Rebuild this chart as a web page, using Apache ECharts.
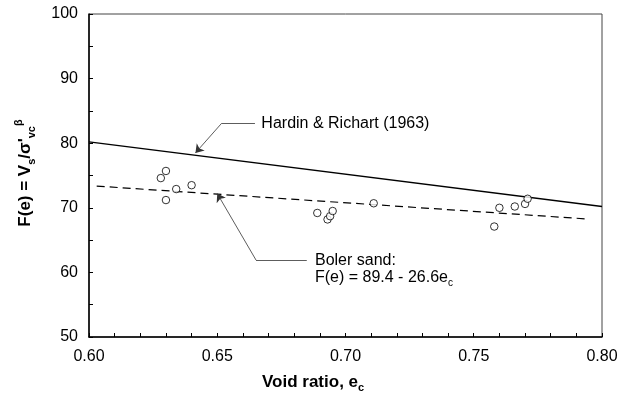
<!DOCTYPE html>
<html>
<head>
<meta charset="utf-8">
<script src="https://cdn.jsdelivr.net/npm/echarts@6/dist/echarts.min.js"></script>
<style>
  html, body { margin: 0; padding: 0; background: #fff; }
  #chart { width: 629px; height: 394px; }
</style>
</head>
<body>
<div id="chart"></div>
<script>
// Measured data: void ratio e_c and F(e)
const voidRatio = [0.628, 0.630, 0.630, 0.634, 0.640, 0.689, 0.693, 0.694, 0.695, 0.711, 0.758, 0.760, 0.766, 0.770, 0.771];
const fValues   = [74.6, 75.7, 71.2, 72.9, 73.5, 69.2, 68.2, 68.7, 69.5, 70.7, 67.1, 70.0, 70.2, 70.6, 71.4];

// Hardin & Richart (1963) reference line
const hardinE = [0.60, 0.80];
const hardinF = [80.2, 70.2];

// Boler sand fit: F(e) = 89.4 - 26.6 e_c
const bolerCoef = [89.4, 26.6];
const bolerRange = [0.603, 0.795];

// Axis ticks
const xTicks = [0.60, 0.65, 0.70, 0.75, 0.80];
const yTicks = [50, 60, 70, 80, 90, 100];

const FONT = 'Liberation Sans, Arial, sans-serif';

const chart = echarts.init(document.getElementById('chart'), null, { renderer: 'canvas' });

const bolerLine = bolerRange.map(e => [e, bolerCoef[0] - bolerCoef[1] * e]);
const hardinLine = hardinE.map((e, i) => [e, hardinF[i]]);
const points = voidRatio.map((e, i) => [e, fValues[i]]);

const near = (v, arr) => arr.some(t => Math.abs(t - v) < 1e-6);

// Leader lines for the two annotations: plain segments and arrowed segments
const leaderStyle = { color: '#333', width: 0.8, opacity: 1 };

chart.setOption({
  animation: false,
  grid: { left: 89, right: 27, top: 14, bottom: 57, show: true, borderColor: '#444', borderWidth: 1 },
  xAxis: {
    type: 'value', min: 0.60, max: 0.80, interval: 0.01,
    axisLine: { show: true, onZero: false, lineStyle: { color: '#000', width: 1.5 } },
    axisTick: { show: true, inside: true, length: 4, lineStyle: { color: '#000', width: 1 } },
    splitLine: { show: false },
    axisLabel: {
      margin: 12, color: '#000', fontFamily: FONT, fontSize: 16,
      formatter: v => near(v, xTicks) ? v.toFixed(2) : ''
    }
  },
  yAxis: {
    type: 'value', min: 50, max: 100, interval: 5,
    axisLine: { show: true, onZero: false, lineStyle: { color: '#000', width: 1.5 } },
    axisTick: { show: true, inside: true, length: 4, lineStyle: { color: '#000', width: 1 } },
    splitLine: { show: false },
    axisLabel: {
      margin: 11, color: '#000', fontFamily: FONT, fontSize: 16,
      formatter: v => near(v, yTicks) ? String(v) : ''
    }
  },
  series: [
    {
      name: 'Hardin & Richart (1963)', type: 'line', data: hardinLine,
      symbol: 'none', lineStyle: { color: '#000', width: 1.4 }, z: 2
    },
    {
      name: 'Boler sand fit', type: 'line', data: bolerLine,
      symbol: 'none', lineStyle: { color: '#000', width: 1.2, type: [8, 5] }, z: 2
    },
    {
      name: 'Boler sand', type: 'scatter', data: points,
      symbol: 'circle', symbolSize: 7.5,
      itemStyle: { color: '#fff', borderColor: '#000', borderWidth: 1 }, z: 5
    },
    {
      name: 'leaders', type: 'lines', coordinateSystem: 'cartesian2d',
      symbol: ['none', 'none'],
      lineStyle: leaderStyle,
      data: [
        { coords: [[0.6647, 83.08], [0.6517, 83.08]] },
        { coords: [[0.6849, 61.92], [0.6651, 61.92]] }
      ], z: 4
    },
    {
      name: 'arrows', type: 'lines', coordinateSystem: 'cartesian2d',
      symbol: ['none', 'arrow'], symbolSize: 8,
      lineStyle: leaderStyle,
      itemStyle: { color: '#333' },
      data: [
        { coords: [[0.6517, 83.08], [0.6415, 78.5]] },
        { coords: [[0.6651, 61.92], [0.6500, 72.2]] }
      ], z: 4
    }
  ]
});

const px = (e, f) => chart.convertToPixel({ gridIndex: 0 }, [e, f]);

const pH = px(0.6672, 83.08);
const pB1 = px(0.6881, 61.8);
const pB2 = px(0.6881, 59.15);

chart.setOption({
  graphic: [
    {
      type: 'text', x: pH[0], y: pH[1],
      style: { text: 'Hardin & Richart (1963)', fontFamily: FONT, fontSize: 16, fill: '#000', align: 'left', verticalAlign: 'middle' }
    },
    {
      type: 'text', x: pB1[0], y: pB1[1],
      style: { text: 'Boler sand:', fontFamily: FONT, fontSize: 16, fill: '#000', align: 'left', verticalAlign: 'middle' }
    },
    {
      type: 'text', x: pB2[0], y: pB2[1],
      style: {
        text: '{n|F(e) = 89.4 - 26.6e}{s|c}', align: 'left', verticalAlign: 'middle', fill: '#000',
        rich: {
          n: { fontFamily: FONT, fontSize: 16, lineHeight: 20, fill: '#000' },
          s: { fontFamily: FONT, fontSize: 10, lineHeight: 11, verticalAlign: 'bottom', fill: '#000' }
        }
      }
    },
    {
      type: 'text', x: 262, y: 382,
      style: {
        text: '{n|Void ratio, e}{s|c}', align: 'left', verticalAlign: 'middle', fill: '#000',
        rich: {
          n: { fontFamily: FONT, fontSize: 17, fontWeight: 'bold', lineHeight: 22, fill: '#000' },
          s: { fontFamily: FONT, fontSize: 11, fontWeight: 'bold', lineHeight: 12, verticalAlign: 'bottom', fill: '#000' }
        }
      }
    },
    {
      type: 'text', x: 25, y: 173, rotation: Math.PI / 2,
      style: {
        text: "{n|F(e) = V}{s|s}{n|/σ'}{s|vc}{p|β}", align: 'center', verticalAlign: 'middle', fill: '#000',
        rich: {
          n: { fontFamily: FONT, fontSize: 17, fontWeight: 'bold', lineHeight: 24, fill: '#000' },
          s: { fontFamily: FONT, fontSize: 11, fontWeight: 'bold', lineHeight: 12, verticalAlign: 'bottom', fill: '#000' },
          p: { fontFamily: FONT, fontSize: 11, fontWeight: 'bold', lineHeight: 12, verticalAlign: 'top', fill: '#000' }
        }
      }
    }
  ]
});
</script>
</body>
</html>
